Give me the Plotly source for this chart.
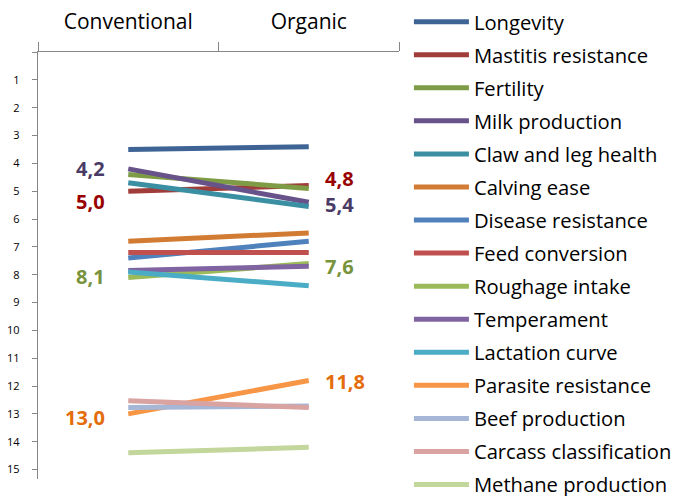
import plotly.graph_objects as go

categories = ["Conventional", "Organic"]
traits = ["Longevity", "Mastitis resistance", "Fertility", "Milk production",
          "Claw and leg health", "Calving ease", "Disease resistance",
          "Feed conversion", "Roughage intake", "Temperament", "Lactation curve",
          "Parasite resistance", "Beef production", "Carcass classification",
          "Methane production"]
conventional = [3.5, 5.0, 4.4, 4.2, 4.7, 6.8, 7.4, 7.2, 8.1, 7.85, 7.9, 13.0, 12.77, 12.53, 14.4]
organic = [3.4, 4.8, 4.9, 5.4, 5.55, 6.5, 6.8, 7.2, 7.6, 7.7, 8.4, 11.8, 12.72, 12.77, 14.2]
colors = ["#3E6496", "#A03D3A", "#7E9C45", "#67538A", "#3A8FA2", "#D27B33",
          "#4F81BD", "#C0504D", "#9BBB59", "#8064A2", "#4BACC6", "#F79646",
          "#A5B6D6", "#D9A3A2", "#C3D69B"]

# labelled series: (trait, colour, left yshift, right yshift)
labelled = [("Milk production", "#4A3B66", 0, -2),
            ("Mastitis resistance", "#990000", -10, 7),
            ("Roughage intake", "#77933C", 1, -3),
            ("Parasite resistance", "#E46C0A", -4, -1)]
y_ticks = list(range(0, 16))

FONT = "Open Sans, Arial, sans-serif"

fig = go.Figure()
for i, name in enumerate(traits):
    fig.add_trace(go.Scatter(
        x=categories, y=[conventional[i], organic[i]], mode="lines", name=name,
        legendgroup=name,
        line=dict(color=colors[i], width=5), hoverinfo="skip"))

def fmt(v):
    return f"{v:.1f}".replace(".", ",")

for name, col, ls, rs in labelled:
    i = traits.index(name)
    fig.add_annotation(x=categories[0], y=conventional[i], text=fmt(conventional[i]),
                       showarrow=False, xanchor="right", xshift=-21, yshift=ls,
                       font=dict(family=FONT, size=20, color=col, weight="bold"))
    fig.add_annotation(x=categories[1], y=organic[i], text=fmt(organic[i]),
                       showarrow=False, xanchor="left", xshift=14, yshift=rs,
                       font=dict(family=FONT, size=20, color=col, weight="bold"))

fig.update_layout(
    width=671, height=488,
    margin=dict(l=30, r=280, t=44, b=17, autoexpand=False),
    paper_bgcolor="white", plot_bgcolor="white",
    font=dict(family=FONT, color="black"),
    showlegend=True,
    legend=dict(x=1.0275, y=1.117, xanchor="left", yanchor="top",
                font=dict(family=FONT, size=20.2, color="black"),
                tracegroupgap=3.8, itemwidth=55, maxheight=1000,
                bgcolor="rgba(0,0,0,0)"),
    xaxis=dict(type="category", categoryorder="array", categoryarray=categories,
               side="top", range=[-0.5, 1.5], tickson="boundaries",
               ticks="outside", ticklen=9, tickcolor="#868686", tickwidth=1.3,
               showline=True, linecolor="#868686", linewidth=1.3,
               showgrid=False, zeroline=False, ticklabelstandoff=13,
               tickfont=dict(family=FONT, size=21, color="black")),
    yaxis=dict(range=[15.34, 0], tickvals=y_ticks,
               ticktext=["" if t == 0 else str(t) for t in y_ticks],
               ticks="outside", ticklen=5, tickcolor="#868686", tickwidth=1.3,
               showline=True, linecolor="#868686", linewidth=1.3,
               showgrid=False, zeroline=False, ticklabelstandoff=10,
               tickfont=dict(family=FONT, size=11, color="black")),
)

fig.write_html("out.html")
